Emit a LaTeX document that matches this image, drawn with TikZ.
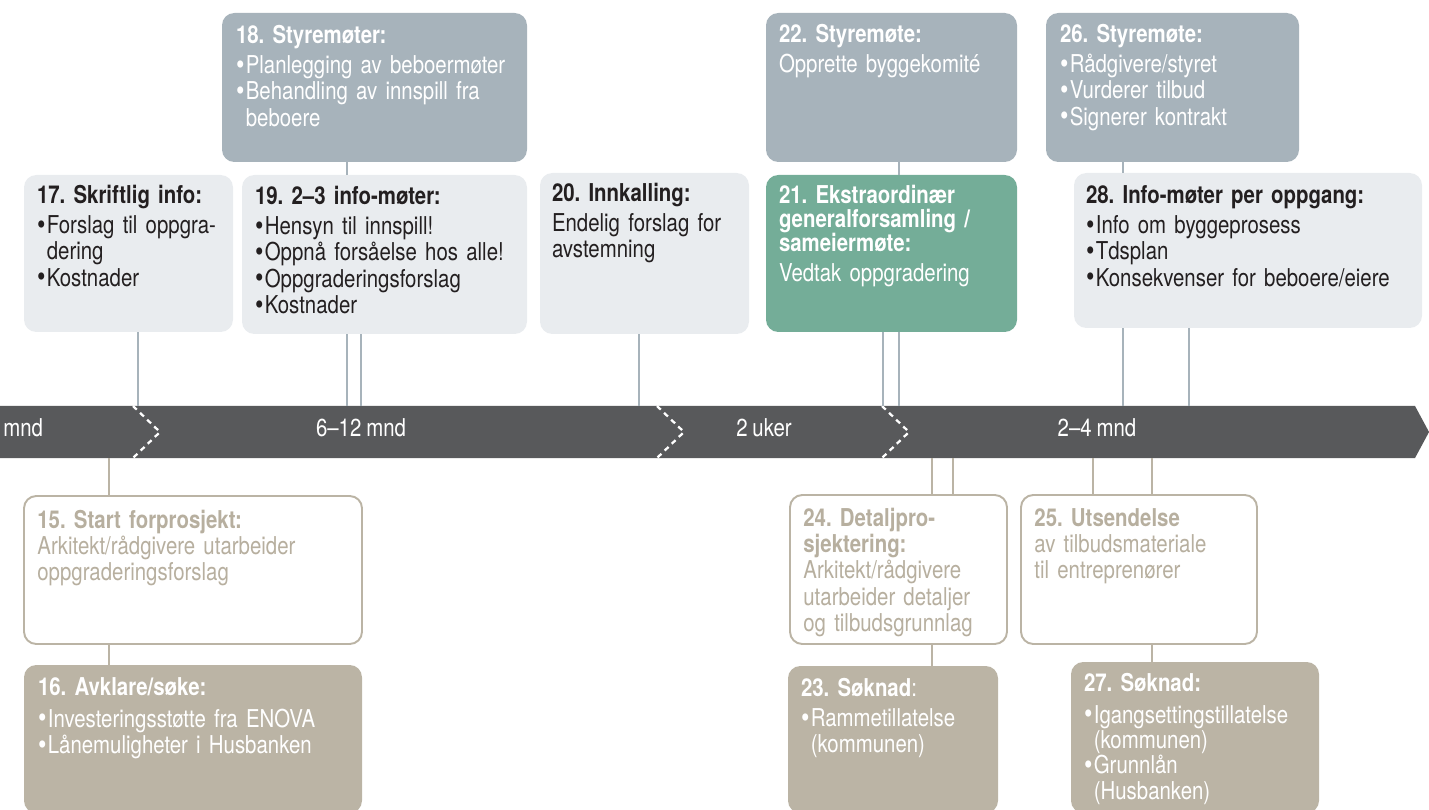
\documentclass[tikz,border=0pt]{standalone}
\usepackage{fontspec}
\setmainfont{TeX Gyre Heros}[FakeStretch=0.83, WordSpace=0.85]
\usepackage{xcolor}
\usetikzlibrary{fit,calc}
\definecolor{slate}{HTML}{A7B3BB}
\definecolor{pale}{HTML}{E9ECEF}
\definecolor{sage}{HTML}{74AD98}
\definecolor{sand}{HTML}{BBB4A5}
\definecolor{sandtext}{HTML}{B7AF9F}
\definecolor{ink}{HTML}{231F20}
\definecolor{barcol}{HTML}{58595B}
\frenchspacing
\newcommand{\bp}{\raisebox{-0.4pt}{\fontsize{16.5}{15}\selectfont\textbullet}\kern0.8pt}
\newcommand{\ind}{\hphantom{\bp}}
\tikzset{
	card/.style={rounded corners=7pt, inner sep=0pt},
	slatecard/.style={card, fill=slate},
	palecard/.style={card, fill=pale},
	sagecard/.style={card, fill=sage},
	sandcard/.style={card, fill=sand},
	opencard/.style={card, fill=white, draw=sand, line width=1.1pt},
	cardtext/.style={anchor=base west, inner sep=0pt, align=left, text width=8cm,
			font=\fontsize{14}{15}\selectfont},
	uplink/.style={draw=slate, line width=0.6pt},
	downlink/.style={draw=sand, line width=0.6pt},
	chevron/.style={draw=white, line width=1.3pt, dash pattern=on 3pt off 2.6pt},
	bartext/.style={anchor=base, text=white, inner sep=0pt, font=\fontsize{14}{15}\selectfont}
}

\begin{document}
\begin{tikzpicture}[x=0.02cm, y=-0.02cm]
	\useasboundingbox (0,0) rectangle (1429,810);
	% timeline bar
	\fill[barcol] (0,406) -- (1415,406) -- (1429,432) -- (1415,458) -- (0,458) -- cycle;
	\coordinate (bartop) at (0,406);
	\coordinate (barbot) at (0,458);
	\foreach \x in {133,657,882}
		\draw[chevron] (\x,406) -- (\x+27,432) -- (\x,458);
	\node[bartext, anchor=base west] (lmnd) at (3,437) {mnd};
	\node[bartext] (l612) at (361,437) {6–12 mnd};
	\node[bartext] (l2uker) at (764,437) {2 uker};
	\node[bartext] (l24) at (1097,437) {2–4 mnd};

	% upper cards
	\node[slatecard, fit={(222,13) (527,162)}] (b18) {};
	\node[palecard, fit={(24,175) (233,332)}] (b17) {};
	\node[palecard, fit={(242,175) (527,334)}] (b19) {};
	\node[palecard, fit={(540,173) (749,334)}] (b20) {};
	\node[slatecard, fit={(766,13) (1017,162)}] (b22) {};
	\node[sagecard, fit={(766,175) (1017,332)}] (b21) {};
	\node[slatecard, fit={(1046,13) (1299,162)}] (b26) {};
	\node[palecard, fit={(1074,173) (1422,328)}] (b28) {};

	\node[cardtext, text=white] (t18) at ($(b18.north west)+(14,31)$)
		{\textbf{18. Styremøter:}\\[2pt] \bp Planlegging av beboermøter\\ \bp Behandling av innspill fra\\ \ind beboere};
	\node[cardtext, text=ink] (t17) at ($(b17.north west)+(13,29)$)
		{\textbf{17. Skriftlig info:}\\[2pt] \bp Forslag til oppgra-\\ \ind dering\\ \bp Kostnader};
	\node[cardtext, text=ink] (t19) at ($(b19.north west)+(13,30)$)
		{\textbf{19. 2–3 info-møter:}\\[2pt] \bp Hensyn til innspill!\\ \bp Oppnå forsåelse hos alle!\\ \bp Oppgraderingsforslag\\ \bp Kostnader};
	\node[cardtext, text=ink] (t20) at ($(b20.north west)+(12,29)$)
		{\textbf{20. Innkalling:}\\[2pt] Endelig forslag for\\ avstemning};
	\node[cardtext, text=white] (t22) at ($(b22.north west)+(13,30)$)
		{\textbf{22. Styremøte:}\\[2pt] Opprette byggekomité};
	\node[cardtext, text=white] (t21) at ($(b21.north west)+(13,29)$)
		{\textbf{21. Ekstraordinær}\\[-1.4pt] \textbf{generalforsamling /}\\[-1.4pt] \textbf{sameiermøte:}\\[2pt] Vedtak oppgradering};
	\node[cardtext, text=white] (t26) at ($(b26.north west)+(14,30)$)
		{\textbf{26. Styremøte:}\\[2pt] \bp Rådgivere/styret\\ \bp Vurderer tilbud\\ \bp Signerer kontrakt};
	\node[cardtext, text=ink] (t28) at ($(b28.north west)+(12,31)$)
		{\textbf{28. Info-møter per oppgang:}\\[2pt] \bp Info om byggeprosess\\ \bp Tdsplan\\ \bp Konsekvenser for beboere/eiere};

	% lower cards
	\node[opencard, fit={(24,496) (362,644)}] (b15) {};
	\node[sandcard, fit={(24,665) (362,813)}] (b16) {};
	\node[opencard, fit={(790,495) (1007,644)}] (b24) {};
	\node[opencard, fit={(1021,495) (1257,644)}] (b25) {};
	\node[sandcard, fit={(788,666) (998,813)}] (b23) {};
	\node[sandcard, fit={(1071,662) (1319,813)}] (b27) {};

	\node[cardtext, text=sandtext] (t15) at ($(b15.north west)+(14,33)$)
		{\textbf{15. Start forprosjekt:}\\ Arkitekt/rådgivere utarbeider\\ oppgraderingsforslag};
	\node[cardtext, text=white] (t16) at ($(b16.north west)+(14,31)$)
		{\textbf{16. Avklare/søke:}\\[3pt] \bp Investeringsstøtte fra ENOVA\\ \bp Lånemuligheter i Husbanken};
	\node[cardtext, text=sandtext] (t24) at ($(b24.north west)+(14,32)$)
		{\textbf{24. Detaljpro-}\\ \textbf{sjektering:}\\ Arkitekt/rådgivere\\ utarbeider detaljer\\ og tilbudsgrunnlag};
	\node[cardtext, text=sandtext] (t25) at ($(b25.north west)+(14,32)$)
		{\textbf{25. Utsendelse}\\ av tilbudsmateriale\\ til entreprenører};
	\node[cardtext, text=white] (t23) at ($(b23.north west)+(13,31)$)
		{\textbf{23. Søknad}:\\[2pt] \bp Rammetillatelse\\ \ind(kommunen)};
	\node[cardtext, text=white] (t27) at ($(b27.north west)+(13,30)$)
		{\textbf{27. Søknad:}\\[3pt] \bp Igangsettingstillatelse\\[-0.6pt] \ind(kommunen)\\[-0.6pt] \bp Grunnlån\\[-0.6pt] \ind(Husbanken)};

	% links above the bar
	\draw[uplink] (b18.south -| 347,0) -- (b19.north -| 347,0);
	\draw[uplink] (b22.south -| 899,0) -- (b21.north -| 899,0);
	\draw[uplink] (b26.south -| 1123,0) -- (b28.north -| 1123,0);
	\draw[uplink] (b17.south -| 138,0) -- (bartop -| 138,0);
	\foreach \x in {347,361}
		\draw[uplink] (b19.south -| \x,0) -- (bartop -| \x,0);
	\draw[uplink] (b20.south -| 639,0) -- (bartop -| 639,0);
	\foreach \x in {883,899}
		\draw[uplink] (b21.south -| \x,0) -- (bartop -| \x,0);
	\foreach \x in {1123,1189}
		\draw[uplink] (b28.south -| \x,0) -- (bartop -| \x,0);

	% links below the bar
	\draw[downlink] (barbot -| 109,0) -- (b15.north -| 109,0);
	\draw[downlink] (b15.south -| 109,0) -- (b16.north -| 109,0);
	\foreach \x in {932,953}
		\draw[downlink] (barbot -| \x,0) -- (b24.north -| \x,0);
	\draw[downlink] (b24.south -| 932,0) -- (b23.north -| 932,0);
	\foreach \x in {1093,1152}
		\draw[downlink] (barbot -| \x,0) -- (b25.north -| \x,0);
	\draw[downlink] (b25.south -| 1152,0) -- (b27.north -| 1152,0);
\end{tikzpicture}
\end{document}
